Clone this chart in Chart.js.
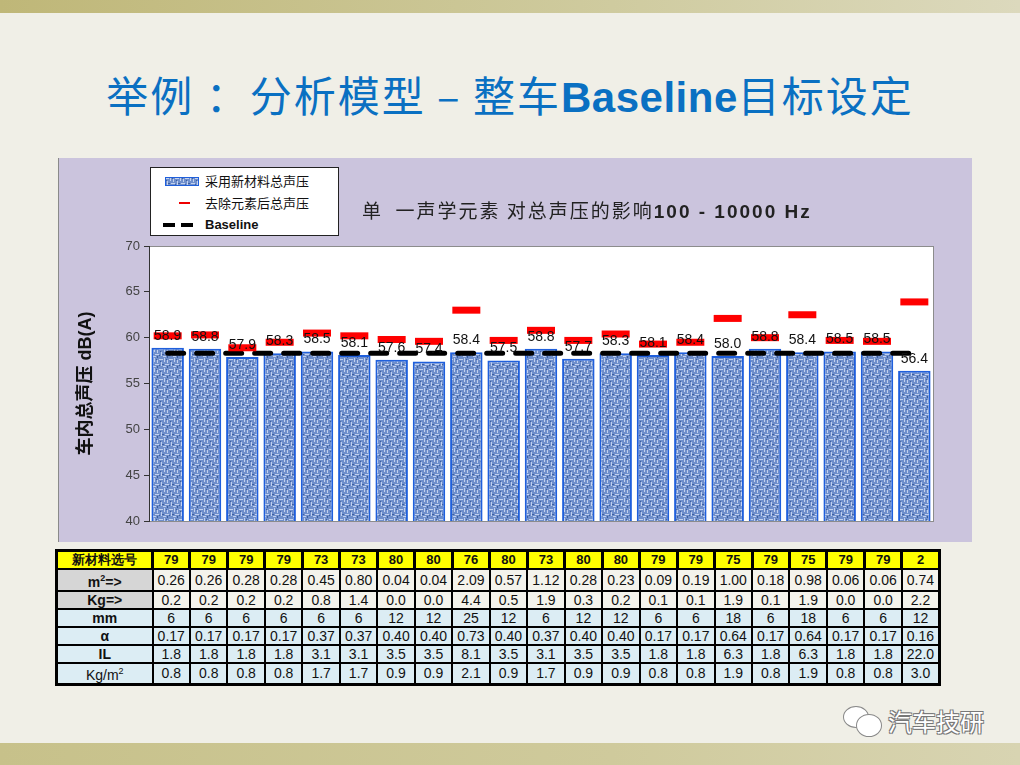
<!DOCTYPE html>
<html>
<head>
<meta charset="utf-8">
<script src="https://cdn.jsdelivr.net/npm/chart.js@4/dist/chart.umd.min.js"></script>
<style>
  html, body { margin: 0; padding: 0; }
  body {
    width: 1020px; height: 765px; position: relative; overflow: hidden;
    background: #f0efe7;
    font-family: "Liberation Sans", Arial, sans-serif;
  }
  .band-top { position: absolute; left: 0; top: 0; width: 1020px; height: 13px;
    background: linear-gradient(to right, #bfb778, #cfcb9f 60%, #dcd9bd); }
  .band-bottom { position: absolute; left: 0; top: 743px; width: 1020px; height: 22px;
    background: linear-gradient(to right, #c7c18a, #cfca9c 60%, #d8d4b2); }
  .title { position: absolute; left: 0; top: 66px; width: 1020px; text-align: center;
    color: #0a70c2; font-size: 42px; line-height: 56px;
    font-family: "Noto Sans CJK SC", sans-serif; letter-spacing: 2px; }
  .title b { font-family: "Liberation Sans", Arial, sans-serif; font-weight: bold; letter-spacing: 0.5px; }
  #box { position: absolute; left: 58px; top: 158px; width: 914px; height: 384px;
    background: #cbc4dd; border-left: 1px solid #8a8a8a; box-sizing: border-box; }
  #legend { position: absolute; left: 150px; top: 167px; width: 189px; height: 69px;
    background: #fff; border: 1px solid #222; box-sizing: border-box; font-size: 13px; }
  .lg-row { position: absolute; left: 0; height: 20px; line-height: 20px; }
  .lg-row span { position: absolute; left: 54px; white-space: nowrap; color: #111;
    font-family: "Noto Sans CJK SC", sans-serif; font-size: 13px; }
  .ctitle { position: absolute; left: 362px; top: 196px; font-size: 19px; color: #222;
    font-family: "Noto Sans CJK SC", sans-serif; white-space: nowrap; letter-spacing: 2px; }
  .ctitle b { font-family: "Liberation Sans", Arial, sans-serif; }
  table { position: absolute; left: 55px; top: 549px; border-collapse: collapse;
    table-layout: fixed; width: 886px; border: 3px solid #000; }
  td { border: 2px solid #000; padding: 0; height: 16px; line-height: 16px;
    text-align: center; font-size: 14px; color: #111; overflow: hidden; white-space: nowrap; }
  td.h { font-weight: bold; font-size: 14px; }
  tr.r0 td { background: #ffff00; font-weight: bold; font-size: 13px; border-right-width: 3px; }
  tr.r1 td, tr.r2 td { background: #f4f3ec; }
  tr.r1 td.h, tr.r2 td.h { background: #d6d6d6; }
  tr.r3 td, tr.r4 td, tr.r5 td, tr.r6 td { background: #dcedf4; }
  .wm { position: absolute; left: 888px; top: 703px; font-size: 24px; color: #fff;
    font-family: "Noto Sans CJK SC", sans-serif;
    text-shadow: -1px -1px 0 #777, 1px -1px 0 #777, -1px 1px 0 #777, 1px 1px 0 #777; }
  .bub { position: absolute; border-radius: 50%; background: #fff; border: 1.5px solid #888; }
</style>
</head>
<body>
<div class="band-top"></div>
<div class="band-bottom"></div>
<div class="title">举例 ：分析模型 – 整车<b>Baseline</b>目标设定</div>

<div id="box"><canvas id="chart"></canvas></div>

<div id="legend">
  <div class="lg-row" style="top:3px;width:100%">
    <canvas id="sw" width="34" height="9" style="position:absolute;left:14px;top:6px"></canvas>
    <span>采用新材料总声压</span>
  </div>
  <div class="lg-row" style="top:25px;width:100%">
    <div style="position:absolute;left:28px;top:9px;width:11px;height:2px;background:#e00"></div>
    <span>去除元素后总声压</span>
  </div>
  <div class="lg-row" style="top:47px;width:100%">
    <div style="position:absolute;left:12px;top:8px;width:12px;height:4px;background:#000"></div>
    <div style="position:absolute;left:30px;top:8px;width:12px;height:4px;background:#000"></div>
    <span style="font-family:'Liberation Sans',Arial,sans-serif;font-weight:bold;font-size:13px">Baseline</span>
  </div>
</div>

<div class="ctitle">单&nbsp;&nbsp;一声学元素&nbsp;对总声压的影响<b>100 - 10000 Hz</b></div>

<table id="tbl"></table>

<div class="bub" style="left:843px;top:706px;width:24px;height:20px"></div>
<div class="bub" style="left:856px;top:714px;width:24px;height:21px"></div>
<div class="wm">汽车技研</div>

<script>
// bar values: total SPL with new material, dB(A)
var newMaterial = [58.9, 58.8, 57.9, 58.3, 58.5, 58.1, 57.6, 57.4, 58.4, 57.5, 58.8,
                   57.7, 58.3, 58.1, 58.4, 58.0, 58.8, 58.4, 58.5, 58.5, 56.4];
// red marks: total SPL with element removed
var removed = [60.2, 60.3, 58.9, 59.5, 60.5, 60.2, 59.8, 59.6, 63.0, 59.7, 60.8,
               59.7, 60.4, 59.3, 59.5, 62.1, 60.0, 62.5, 59.7, 59.6, 63.9];
var baselineValue = 58.3;
var yTicks = [40, 45, 50, 55, 60, 65, 70];

// table rows
var matId = [79, 79, 79, 79, 73, 73, 80, 80, 76, 80, 73, 80, 80, 79, 79, 75, 79, 75, 79, 79, 2];
var area = [0.26, 0.26, 0.28, 0.28, 0.45, 0.80, 0.04, 0.04, 2.09, 0.57, 1.12, 0.28, 0.23, 0.09, 0.19, 1.00, 0.18, 0.98, 0.06, 0.06, 0.74];
var mass = [0.2, 0.2, 0.2, 0.2, 0.8, 1.4, 0.0, 0.0, 4.4, 0.5, 1.9, 0.3, 0.2, 0.1, 0.1, 1.9, 0.1, 1.9, 0.0, 0.0, 2.2];
var thick = [6, 6, 6, 6, 6, 6, 12, 12, 25, 12, 6, 12, 12, 6, 6, 18, 6, 18, 6, 6, 12];
var alpha = [0.17, 0.17, 0.17, 0.17, 0.37, 0.37, 0.40, 0.40, 0.73, 0.40, 0.37, 0.40, 0.40, 0.17, 0.17, 0.64, 0.17, 0.64, 0.17, 0.17, 0.16];
var il = [1.8, 1.8, 1.8, 1.8, 3.1, 3.1, 3.5, 3.5, 8.1, 3.5, 3.1, 3.5, 3.5, 1.8, 1.8, 6.3, 1.8, 6.3, 1.8, 1.8, 22.0];
var density = [0.8, 0.8, 0.8, 0.8, 1.7, 1.7, 0.9, 0.9, 2.1, 0.9, 1.7, 0.9, 0.9, 0.8, 0.8, 1.9, 0.8, 1.9, 0.8, 0.8, 3.0];

var rows = [
  ['新材料选号', matId, 0],
  ['m<sup style="font-size:9px">2</sup>=&gt;', area, 2],
  ['Kg=&gt;', mass, 1],
  ['mm', thick, 0],
  ['α', alpha, 2],
  ['IL', il, 1],
  ['<span style="font-weight:normal">Kg/m<sup style="font-size:9px">2</sup></span>', density, 1]
];
var html = '<colgroup><col style="width:96px">';
for (var i = 0; i < matId.length; i++) html += '<col>';
html += '</colgroup>';
rows.forEach(function (r, ri) {
  html += '<tr class="r' + ri + '"><td class="h">' + r[0] + '</td>';
  r[1].forEach(function (v) { html += '<td>' + v.toFixed(r[2]) + '</td>'; });
  html += '</tr>';
});
document.getElementById('tbl').innerHTML = html;

// mottled blue fill like the original bars
function makePattern(c) {
  var t = document.createElement('canvas');
  t.width = 10; t.height = 10;
  var g = t.getContext('2d');
  g.fillStyle = '#6f8fcc'; g.fillRect(0, 0, 10, 10);
  g.fillStyle = '#c3d1ee';
  g.fillRect(0, 1, 4, 1); g.fillRect(5, 0, 1, 4); g.fillRect(2, 4, 1, 4);
  g.fillRect(6, 6, 4, 1); g.fillRect(4, 8, 3, 1); g.fillRect(8, 2, 1, 3);
  g.fillStyle = '#3e5f9f';
  g.fillRect(1, 3, 1, 1); g.fillRect(7, 1, 1, 1); g.fillRect(3, 6, 2, 1);
  g.fillRect(8, 8, 1, 2); g.fillRect(0, 7, 1, 1);
  return c.createPattern(t, 'repeat');
}
var sw = document.getElementById('sw').getContext('2d');
sw.fillStyle = makePattern(sw); sw.fillRect(0, 0, 34, 9);
sw.strokeStyle = '#1f5fdc'; sw.lineWidth = 1; sw.strokeRect(0.5, 0.5, 33, 8);

var labels = matId.map(function (m, i) { return String(i + 1); });

var plotBg = {
  id: 'plotBg',
  beforeDraw: function (chart) {
    var a = chart.chartArea, c = chart.ctx;
    c.save();
    c.fillStyle = '#ffffff';
    c.fillRect(a.left, a.top, a.right - a.left, a.bottom - a.top);
    c.strokeStyle = '#8c8c8c'; c.lineWidth = 1;
    c.strokeRect(a.left + 0.5, a.top + 0.5, a.right - a.left, a.bottom - a.top);
    c.restore();
  }
};

var valueLabels = {
  id: 'valueLabels',
  afterDatasetsDraw: function (chart) {
    var c = chart.ctx, meta = chart.getDatasetMeta(0);
    c.save();
    c.font = '14px "Liberation Sans", Arial, sans-serif';
    c.fillStyle = '#111';
    c.textAlign = 'center'; c.textBaseline = 'middle';
    meta.data.forEach(function (el, i) {
      c.fillText(newMaterial[i].toFixed(1), el.x, el.y - 12);
    });
    c.restore();
  }
};

var ctx = document.getElementById('chart').getContext('2d');
new Chart(ctx, {
  type: 'bar',
  data: {
    labels: labels,
    datasets: [{
      label: '采用新材料总声压',
      data: newMaterial,
      backgroundColor: makePattern(ctx),
      borderColor: '#1f5fdc',
      borderWidth: 2,
      categoryPercentage: 1,
      barPercentage: 0.87,
      order: 3
    }, {
      type: 'line',
      label: 'Baseline',
      data: labels.map(function () { return baselineValue; }),
      borderColor: '#000',
      borderWidth: 5,
      borderDash: [16, 13],
      borderCapStyle: 'round',
      pointRadius: 0,
      order: 2
    }, {
      type: 'line',
      label: '去除元素后总声压',
      data: removed,
      showLine: false,
      pointStyle: 'line',
      pointRadius: 14,
      pointBorderWidth: 7,
      pointBorderColor: '#ff0000',
      borderColor: '#ff0000',
      order: 1
    }]
  },
  options: {
    responsive: true,
    maintainAspectRatio: false,
    animation: false,
    layout: { padding: { left: 0, top: 88, right: 39, bottom: 20 } },
    plugins: { legend: { display: false }, tooltip: { enabled: false } },
    scales: {
      x: { display: false },
      y: {
        min: 40, max: 70,
        afterBuildTicks: function (s) { s.ticks = yTicks.map(function (v) { return { value: v }; }); },
        afterFit: function (s) { s.width = 90; },
        grid: { drawOnChartArea: false, drawTicks: true, tickLength: 5, color: '#333' },
        border: { display: true, color: '#333' },
        ticks: { color: '#444', padding: 4, font: { size: 13, family: '"Liberation Sans", Arial' } },
        title: {
          display: true,
          text: '车内总声压 dB(A)',
          color: '#111',
          padding: { top: 16, bottom: 0 },
          font: { size: 18, weight: 'bold', family: '"Liberation Sans", "Noto Sans CJK SC", sans-serif' }
        }
      }
    }
  },
  plugins: [plotBg, valueLabels]
});
</script>
</body>
</html>
